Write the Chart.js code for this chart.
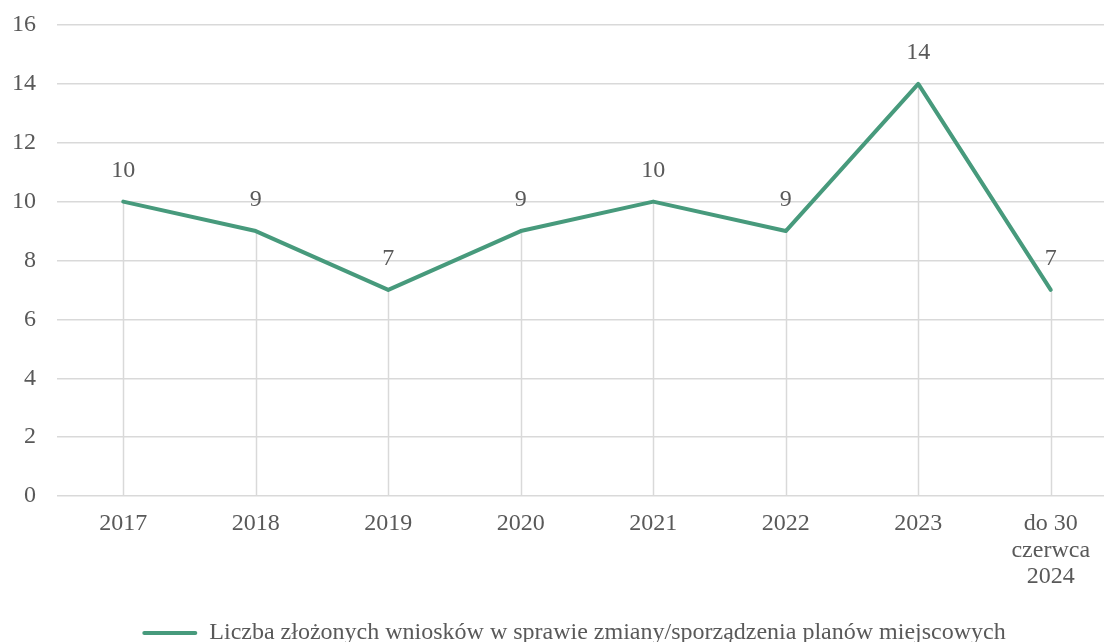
<!DOCTYPE html>
<html lang="pl">
<head>
<meta charset="utf-8">
<title>Liczba złożonych wniosków</title>
<script src="https://cdn.jsdelivr.net/npm/chart.js@4/dist/chart.umd.min.js"></script>
<style>
  html, body { margin: 0; padding: 0; background: #fff; overflow: hidden; }
  #wrap { width: 1148px; height: 642px; }
</style>
</head>
<body>
<div id="wrap"><canvas id="chart" width="1148" height="642"></canvas></div>
<script>
// dane
const categories = ['2017', '2018', '2019', '2020', '2021', '2022', '2023', ['do 30', 'czerwca', '2024']];
const applications = [10, 9, 7, 9, 10, 9, 14, 7];
const seriesLabel = 'Liczba złożonych wniosków w sprawie zmiany/sporządzenia planów miejscowych';
const yTicks = [0, 2, 4, 6, 8, 10, 12, 14, 16];

const GREEN = '#479a7c';
const GRID = '#d9d9d9';
const TEXT = '#595959';
const FONT = { family: '"Liberation Serif", "Times New Roman", serif', size: 24 };

// pionowe linie od punktu do osi + etykiety wartości
const dropLinesAndLabels = {
  id: 'dropLinesAndLabels',
  beforeDatasetsDraw(chart) {
    const { ctx, chartArea } = chart;
    const meta = chart.getDatasetMeta(0);
    ctx.save();
    ctx.strokeStyle = GRID;
    ctx.lineWidth = 1.5;
    meta.data.forEach(pt => {
      ctx.beginPath();
      ctx.moveTo(Math.round(pt.x) + 0.5, pt.y);
      ctx.lineTo(Math.round(pt.x) + 0.5, chartArea.bottom);
      ctx.stroke();
    });
    ctx.restore();
  },
  afterDatasetsDraw(chart) {
    const { ctx } = chart;
    const meta = chart.getDatasetMeta(0);
    const values = chart.data.datasets[0].data;
    ctx.save();
    ctx.fillStyle = TEXT;
    ctx.font = `${FONT.size}px ${FONT.family}`;
    ctx.textAlign = 'center';
    ctx.textBaseline = 'middle';
    meta.data.forEach((pt, i) => {
      ctx.fillText(String(values[i]), pt.x, pt.y - 31);
    });
    ctx.restore();
  }
};

new Chart(document.getElementById('chart'), {
  type: 'line',
  data: {
    labels: categories,
    datasets: [{
      label: seriesLabel,
      data: applications,
      borderColor: GREEN,
      backgroundColor: GREEN,
      borderWidth: 4,
      borderCapStyle: 'round',
      borderJoinStyle: 'round',
      pointRadius: 0,
      tension: 0,
      fill: false
    }]
  },
  options: {
    responsive: false,
    animation: false,
    devicePixelRatio: 1,
    layout: { padding: { top: 25, left: 0, right: 0, bottom: -13 } },
    scales: {
      x: {
        offset: true,
        grid: { display: false },
        border: { display: false },
        ticks: { color: TEXT, font: { ...FONT, lineHeight: 1.12 }, padding: 6, maxRotation: 0, autoSkip: false },
        afterFit(s) { s.height = 125; s.paddingLeft = 0; s.paddingRight = 0; }
      },
      y: {
        min: 0,
        max: 16,
        afterBuildTicks(s) { s.ticks = yTicks.map(v => ({ value: v })); },
        grid: { color: GRID, lineWidth: 1.5, drawTicks: false },
        border: { display: false },
        ticks: { color: TEXT, font: FONT, padding: 21 },
        afterFit(s) { s.width = 57; s.paddingTop = 0; s.paddingBottom = 0; }
      },
      // pusta oś po prawej - tylko rezerwuje miejsce
      yRight: {
        position: 'right',
        display: true,
        grid: { display: false, drawTicks: false },
        border: { display: false },
        ticks: { display: false },
        afterFit(s) { s.width = 31; s.paddingTop = 0; s.paddingBottom = 0; }
      }
    },
    plugins: {
      legend: {
        position: 'bottom',
        labels: {
          color: TEXT,
          font: FONT,
          padding: 0,
          boxWidth: 55,
          boxHeight: 4,
          generateLabels(chart) {
            const ds = chart.data.datasets[0];
            return [{
              text: ds.label,
              fillStyle: GREEN,
              strokeStyle: GREEN,
              lineWidth: 0,
              borderRadius: 2,
              fontColor: TEXT,
              datasetIndex: 0,
              hidden: false
            }];
          }
        }
      },
      tooltip: { enabled: false }
    }
  },
  plugins: [dropLinesAndLabels]
});
</script>
</body>
</html>
